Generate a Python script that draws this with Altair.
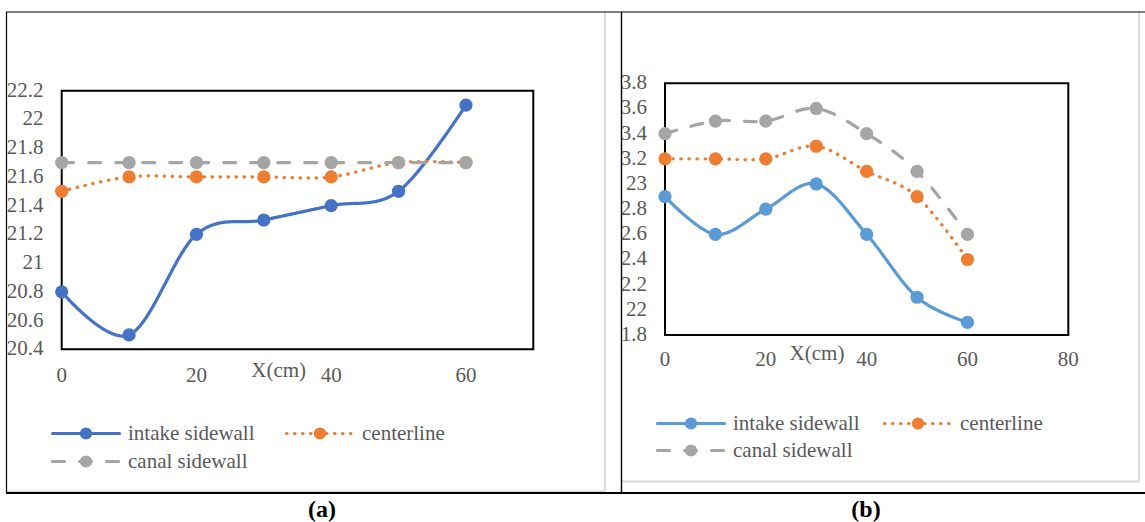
import altair as alt
import pandas as pd

# ---- data ---------------------------------------------------------------
x_cm = [0, 10, 20, 30, 40, 50, 60]
series_names = ["intake sidewall", "centerline", "canal sidewall"]

# panel (a)
a_intake = [20.8, 20.5, 21.2, 21.3, 21.4, 21.5, 22.1]
a_center = [21.5, 21.6, 21.6, 21.6, 21.6, 21.7, 21.7]
a_canal = [21.7, 21.7, 21.7, 21.7, 21.7, 21.7, 21.7]
a_y_ticks = [20.4, 20.6, 20.8, 21.0, 21.2, 21.4, 21.6, 21.8, 22.0, 22.2]
a_y_labels = ["20.4", "20.6", "20.8", "21", "21.2", "21.4", "21.6", "21.8", "22", "22.2"]
a_x_ticks = [0, 20, 40, 60]

# panel (b)
b_intake = [2.9, 2.6, 2.8, 3.0, 2.6, 2.1, 1.9]
b_center = [3.2, 3.2, 3.2, 3.3, 3.1, 2.9, 2.4]
b_canal = [3.4, 3.5, 3.5, 3.6, 3.4, 3.1, 2.6]
b_y_ticks = [1.8, 2.0, 2.2, 2.4, 2.6, 2.8, 3.0, 3.2, 3.4, 3.6, 3.8]
b_y_labels = ["1.8", "22", "2.2", "2.4", "2.6", "2.8", "23", "3.2", "3.4", "3.6", "3.8"]
b_x_ticks = [0, 20, 40, 60, 80]

captions = ["(a)", "(b)"]

# ---- styles -------------------------------------------------------------
SERIF = "Liberation Serif"
TXT = "#595959"
FS = 21
ORANGE = "#ED7D31"
GREY = "#A5A5A5"
DASHES = {"intake sidewall": [1, 0], "centerline": [0.5, 7.5], "canal sidewall": [12, 15]}
ONE = pd.DataFrame({"k": [0]})


def rule(x1, y1, x2, y2, color="black", width=1.2):
    return alt.Chart(ONE).mark_rule(color=color, strokeWidth=width).encode(
        x=alt.value(x1), y=alt.value(y1), x2=alt.value(x2), y2=alt.value(y2)
    )


def label(text, x, y, align="left", size=FS, weight="normal", color=TXT):
    return alt.Chart(ONE).mark_text(
        text=text, align=align, baseline="middle", font=SERIF,
        fontSize=size, fontWeight=weight, color=color,
    ).encode(x=alt.value(x), y=alt.value(y))


def legend_entry(name, color, x0, y):
    seg = alt.Chart(ONE).mark_rule(
        color=color, strokeWidth=3.2, strokeDash=DASHES[name], strokeCap="round"
    ).encode(x=alt.value(x0 + 1.5), x2=alt.value(x0 + 68.5), y=alt.value(y))
    dot = alt.Chart(ONE).mark_circle(size=150, color=color, opacity=1).encode(
        x=alt.value(x0 + 35), y=alt.value(y)
    )
    return [seg, dot, label(name, x0 + 77, y)]


def panel(values, colors, x_dom, x_rng, y_dom, y_rng, y_ticks, y_labels,
          y_lab_x, x_ticks, x_lab_y, xtitle_pos, legend_rows):
    xs = alt.Scale(domain=x_dom, range=x_rng, nice=False, zero=False)
    ys = alt.Scale(domain=y_dom, range=y_rng, nice=False, zero=False)
    layers = []

    box = pd.DataFrame({"x0": [x_dom[0]], "x1": [x_dom[1]], "y0": [y_dom[0]], "y1": [y_dom[1]]})
    layers.append(
        alt.Chart(box).mark_rect(fill="transparent", stroke="black", strokeWidth=2).encode(
            x=alt.X("x0:Q", scale=xs, axis=None), x2="x1",
            y=alt.Y("y0:Q", scale=ys, axis=None), y2="y1",
        )
    )

    for name, vals, color in zip(series_names, values, colors):
        df = pd.DataFrame({"x": x_cm, "y": vals})
        enc = dict(x=alt.X("x:Q", scale=xs, axis=None), y=alt.Y("y:Q", scale=ys, axis=None))
        layers.append(
            alt.Chart(df).mark_line(
                color=color, strokeWidth=3.2, strokeDash=DASHES[name],
                strokeCap="round", interpolate="cardinal",
            ).encode(**enc)
        )
        layers.append(alt.Chart(df).mark_circle(size=175, color=color, opacity=1).encode(**enc))

    ytk = pd.DataFrame({"v": y_ticks, "t": y_labels})
    layers.append(
        alt.Chart(ytk).mark_text(align="right", baseline="middle", font=SERIF, fontSize=FS, color=TXT).encode(
            y=alt.Y("v:Q", scale=ys, axis=None), x=alt.value(y_lab_x), text="t:N"
        )
    )
    xtk = pd.DataFrame({"v": x_ticks})
    layers.append(
        alt.Chart(xtk).mark_text(align="center", baseline="middle", font=SERIF, fontSize=FS, color=TXT).encode(
            x=alt.X("v:Q", scale=xs, axis=None), y=alt.value(x_lab_y), text=alt.Text("v:Q", format="d")
        )
    )
    layers.append(label("X(cm)", xtitle_pos[0], xtitle_pos[1], align="center"))

    for name, color, x0, y in legend_rows:
        layers.extend(legend_entry(name, color, x0, y))

    return alt.layer(*layers)


left = panel(
    [a_intake, a_center, a_canal], ["#4472C4", ORANGE, GREY],
    [0, 70], [61.7, 533.3], [20.4, 22.2], [349.3, 90.7],
    a_y_ticks, a_y_labels, 43.5, a_x_ticks, 375.5, (278.7, 370.5),
    [("intake sidewall", "#4472C4", 51, 433.5),
     ("centerline", ORANGE, 285, 433.5),
     ("canal sidewall", GREY, 51, 461.5)],
)

right = panel(
    [b_intake, b_center, b_canal], ["#5B9BD5", ORANGE, GREY],
    [0, 80], [665, 1068.3], [1.8, 3.8], [335, 83.3],
    b_y_ticks, b_y_labels, 647, b_x_ticks, 360, (817, 353.5),
    [("intake sidewall", "#5B9BD5", 656, 423.5),
     ("centerline", ORANGE, 883, 423.5),
     ("canal sidewall", GREY, 656, 450.5)],
)

frame = [
    rule(605, 12, 605, 491.5, "#D9D9D9", 1.8),
    rule(6, 491.5, 605, 491.5, "#D9D9D9", 1.8),
    rule(622, 481.5, 1139, 481.5, "#D9D9D9", 1.8),
    rule(1139, 12, 1139, 481.5, "#D9D9D9", 1.8),
    rule(6, 12, 1145, 12, "black", 1.2),
    rule(6.5, 12, 6.5, 493, "black", 1.2),
    rule(621.5, 12, 621.5, 493, "black", 1.4),
    rule(6, 493, 1145, 493, "black", 2),
    label(captions[0], 322, 510, align="center", size=24, weight="bold", color="black"),
    label(captions[1], 866, 510, align="center", size=24, weight="bold", color="black"),
]

chart = (
    alt.layer(*frame, left, right)
    .resolve_scale(x="independent", y="independent")
    .properties(width=1145, height=522, padding=0, background="white",
                autosize=alt.AutoSizeParams(type="none"))
    .configure_view(stroke=None)
)

chart.save("out.html", embed_options={"renderer": "svg", "actions": False})
